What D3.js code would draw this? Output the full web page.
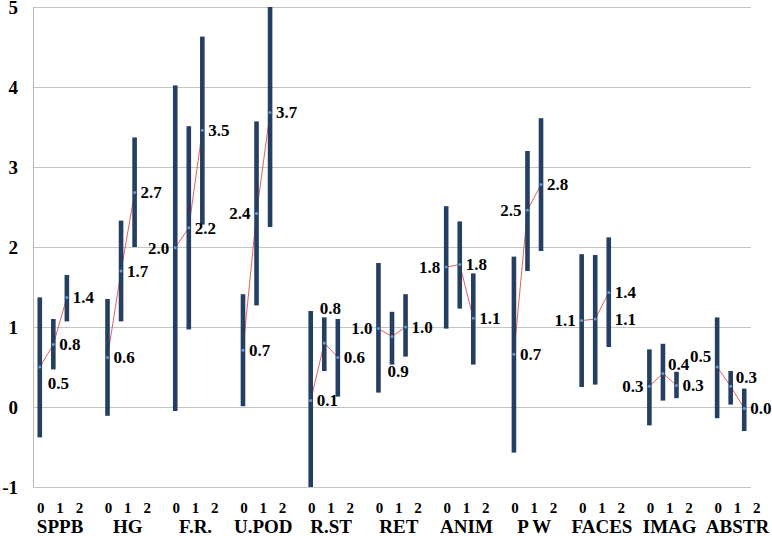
<!DOCTYPE html>
<meta charset="utf-8">
<script src="https://d3js.org/d3.v7.min.js"></script>
<style>
  body { margin: 0; background: #fff; }
</style>
<body>
<div id="chart"></div>
<script>

  // groups along the x axis
  var categories = ["SPPB", "HG", "F.R.", "U.POD", "R.ST", "RET", "ANIM", "P W", "FACES", "IMAG", "ABSTR"];
  var periods = ["0", "1", "2"];
  var yTicks = [-1, 0, 1, 2, 3, 4, 5];

  // upper end of each bar (period 0, 1, 2)
  var highs = [
    [1.37, 1.10, 1.65],
    [1.35, 2.33, 3.37],
    [4.02, 3.51, 4.63],
    [1.41, 3.57, 5.00],
    [1.20, 1.12, 1.10],
    [1.80, 1.19, 1.41],
    [2.51, 2.32, 1.67],
    [1.88, 3.20, 3.61],
    [1.91, 1.90, 2.12],
    [0.72, 0.79, 0.44],
    [1.12, 0.45, 0.23]
  ];
  // lower end of each bar
  var lows = [
    [-0.38, 0.47, 1.07],
    [-0.11, 1.07, 2.00],
    [-0.05, 0.97, 2.28],
    [0.01, 1.27, 2.25],
    [-1.00, 0.45, 0.13],
    [0.18, 0.53, 0.63],
    [0.98, 1.23, 0.53],
    [-0.57, 1.70, 1.95],
    [0.25, 0.28, 0.75],
    [-0.23, 0.08, 0.11],
    [-0.14, 0.03, -0.30]
  ];
  // mean values (the labelled points joined by the red line)
  var means = [
    [0.50, 0.78, 1.37],
    [0.62, 1.70, 2.68],
    [1.99, 2.24, 3.46],
    [0.71, 2.42, 3.68],
    [0.08, 0.80, 0.62],
    [0.98, 0.88, 1.00],
    [1.75, 1.78, 1.11],
    [0.66, 2.46, 2.78],
    [1.08, 1.10, 1.43],
    [0.26, 0.42, 0.27],
    [0.50, 0.26, -0.02]
  ];
  // where each value label sits relative to its point
  var labelSide = [
    ["rb", "r", "r"],
    ["r", "r", "r"],
    ["l", "r", "r"],
    ["r", "l", "r"],
    ["r", "top", "r"],
    ["l", "bot", "r"],
    ["l", "r", "r"],
    ["r", "l", "r"],
    ["l", "r2", "r"],
    ["l", "ra", "r"],
    ["la", "ra", "r"]
  ];

  var width = 772, height = 536;
  var margin = {top: 7, right: 21, bottom: 49, left: 33};
  var slotsPerGroup = 5;
  var nSlots = categories.length * slotsPerGroup - 2;
  var serif = "'Liberation Serif'";

  var svg = d3.select("#chart").append("svg")
    .attr("width", width)
    .attr("height", height);

  var x = d3.scaleBand()
    .domain(d3.range(nSlots))
    .range([margin.left, width - margin.right]);

  var y = d3.scaleLinear()
    .domain([-1, 5])
    .range([height - margin.bottom, margin.top]);

  function cx(g, p) { return x(g * slotsPerGroup + p) + x.bandwidth() / 2; }
  function fmt(v) { return (Math.round(v * 10) / 10 + 0).toFixed(1); }

  // gridlines
  svg.append("g").selectAll("line")
    .data(yTicks)
    .enter().append("line")
    .attr("x1", margin.left)
    .attr("x2", width - margin.right)
    .attr("y1", function(d) { return y(d) + 0.5; })
    .attr("y2", function(d) { return y(d) + 0.5; })
    .attr("stroke", "#c4c4c4")
    .attr("stroke-width", 1);

  svg.append("line")
    .attr("x1", margin.left + 0.5).attr("x2", margin.left + 0.5)
    .attr("y1", y(5)).attr("y2", y(-1))
    .attr("stroke", "#b8b8b8");

  // y tick labels
  svg.append("g").selectAll("text")
    .data(yTicks)
    .enter().append("text")
    .attr("x", 18)
    .attr("y", function(d) { return y(d) + 6.5; })
    .attr("text-anchor", "end")
    .style("font-family", serif)
    .style("font-weight", "bold")
    .style("font-size", "19px")
    .text(function(d) { return d; });

  var groups = svg.append("g").selectAll("g")
    .data(categories)
    .enter().append("g");

  // red line through the means
  var line = d3.line()
    .x(function(d) { return d.x; })
    .y(function(d) { return y(d.v); });

  groups.append("path")
    .attr("d", function(c, g) {
      return line(means[g].map(function(v, p) { return {x: cx(g, p), v: v}; }));
    })
    .attr("fill", "none")
    .attr("stroke", "#e8605a")
    .attr("stroke-width", 1);

  // high-low bars
  groups.selectAll("rect")
    .data(function(c, g) { return periods.map(function(p, i) { return {g: g, p: i}; }); })
    .enter().append("rect")
    .attr("x", function(d) { return cx(d.g, d.p) - 2.3; })
    .attr("width", 4.6)
    .attr("y", function(d) { return y(highs[d.g][d.p]); })
    .attr("height", function(d) { return y(lows[d.g][d.p]) - y(highs[d.g][d.p]); })
    .attr("fill", "#243f62");

  // mean markers
  groups.selectAll("circle")
    .data(function(c, g) { return periods.map(function(p, i) { return {g: g, p: i}; }); })
    .enter().append("circle")
    .attr("cx", function(d) { return cx(d.g, d.p); })
    .attr("cy", function(d) { return y(means[d.g][d.p]); })
    .attr("r", 1.5)
    .attr("fill", "#6a9ad6");

  // value labels
  groups.selectAll("text.val")
    .data(function(c, g) { return periods.map(function(p, i) { return {g: g, p: i}; }); })
    .enter().append("text")
    .attr("class", "val")
    .style("font-family", serif)
    .style("font-weight", "bold")
    .style("font-size", "17px")
    .each(function(d) {
      var side = labelSide[d.g][d.p];
      var px = cx(d.g, d.p), py = y(means[d.g][d.p]);
      var anchor = "start", tx = px + 6, ty = py;
      if (side == "l") { anchor = "end"; tx = px - 6; }
      if (side == "la") { anchor = "end"; tx = px - 6; ty = py - 11; }
      if (side == "rb") { tx = px + 8; ty = py + 16; }
      if (side == "ra") { tx = px + 5; ty = py - 9; }
      if (side == "r2") { tx = cx(d.g, d.p + 1) + 6; }
      if (side == "top") { anchor = "middle"; ty = y(highs[d.g][d.p]) - 9; }
      if (side == "bot") { anchor = "middle"; ty = y(lows[d.g][d.p]) + 7; }
      d3.select(this)
        .attr("x", tx)
        .attr("y", ty + 5.8)
        .attr("text-anchor", anchor)
        .text(fmt(means[d.g][d.p]));
    });

  // category labels: period digits and group name
  groups.selectAll("text.per")
    .data(function(c, g) { return periods.map(function(p, i) { return {g: g, p: i, t: p}; }); })
    .enter().append("text")
    .attr("class", "per")
    .attr("x", function(d) { return cx(d.g, 1) + x.bandwidth() / 2 + (d.p - 1) * 19.3; })
    .attr("y", 513)
    .attr("text-anchor", "middle")
    .style("font-family", serif)
    .style("font-weight", "bold")
    .style("font-size", "15px")
    .text(function(d) { return d.t; });

  groups.append("text")
    .attr("x", function(c, g) { return cx(g, 1) + x.bandwidth() / 2; })
    .attr("y", 533)
    .attr("text-anchor", "middle")
    .style("font-family", serif)
    .style("font-weight", "bold")
    .style("font-size", "19px")
    .text(function(c) { return c; });

</script>
</body>
